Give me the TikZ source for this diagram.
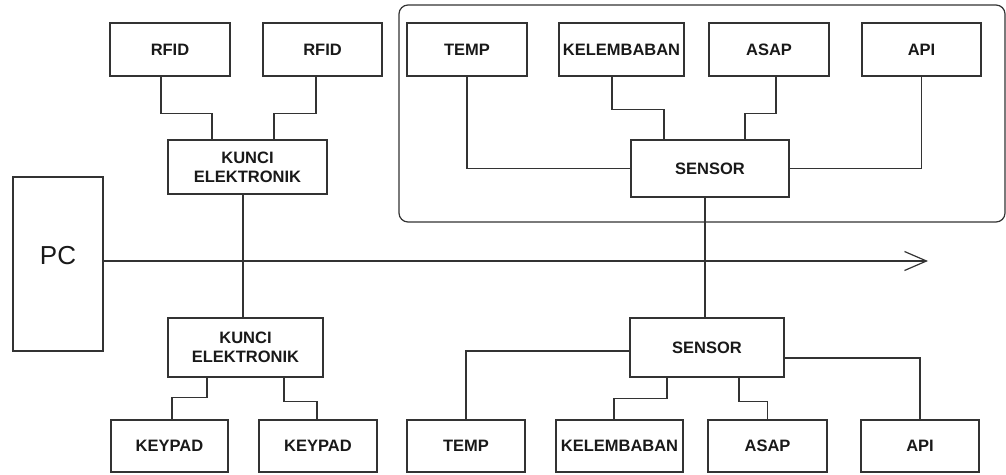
\documentclass[tikz,border=0pt]{standalone}
\usepackage{fontspec}
\setmainfont{Liberation Sans}
\usepackage{tikz}
\usetikzlibrary{arrows.meta,calc,positioning}

\begin{document}
\begin{tikzpicture}[x=1pt, y=-1pt, every node/.style={font=\bfseries\fontsize{16.5}{19}\selectfont, align=center, text=black!90},
    box/.style={draw=black!80, line width=1.2pt, inner sep=0pt, minimum height=53pt},
    wire/.style={draw=black!80, line width=1.2pt}]
    \useasboundingbox (0,0) rectangle (1006,474);

    % kunci elektronik
    \node[box, minimum width=120pt] (rfidA) at (170,49.5) {RFID};
    \node[box, minimum width=119pt] (rfidB) at (322.5,49.5) {RFID};
    \node[box, minimum width=159pt, minimum height=54pt] (kunciA) at (247.5,167) {KUNCI\\ELEKTRONIK};
    \node[box, minimum width=155pt, minimum height=59pt] (kunciB) at (245.5,347.5) {KUNCI\\ELEKTRONIK};
    \node[box, minimum width=117pt, minimum height=52pt] (keypadA) at (169.5,446) {KEYPAD};
    \node[box, minimum width=118pt, minimum height=52pt] (keypadB) at (318,446) {KEYPAD};
    \node[box, minimum width=90pt, minimum height=174pt, label={[font=\fontsize{26}{30}\selectfont, yshift=8pt]center:PC}] (pc) at (58,264) {};

    % sensor
    \node[draw=black!80, line width=1.2pt, rounded corners=9pt, minimum width=606pt, minimum height=217pt] (grup) at (702,113.5) {};
    \node[box, minimum width=120pt] (tempA) at (467,49.5) {TEMP};
    \node[box, minimum width=125pt] (lembabA) at (621.5,49.5) {KELEMBABAN};
    \node[box, minimum width=120pt] (asapA) at (769,49.5) {ASAP};
    \node[box, minimum width=119pt] (apiA) at (921.5,49.5) {API};
    \node[box, minimum width=158pt, minimum height=57pt] (sensorA) at (710,168.5) {SENSOR};

    \node[box, minimum width=154pt, minimum height=59pt] (sensorB) at (707,347.5) {SENSOR};
    \node[box, minimum width=118pt, minimum height=52pt] (tempB) at (466,446) {TEMP};
    \node[box, minimum width=127pt, minimum height=52pt] (lembabB) at (619.5,446) {KELEMBABAN};
    \node[box, minimum width=119pt, minimum height=52pt] (asapB) at (767.5,446) {ASAP};
    \node[box, minimum width=118pt, minimum height=52pt] (apiB) at (920,446) {API};

    \coordinate (ujung) at (928,261);

    \draw[wire] ([xshift=-9pt]rfidA.south) -- ++(0,37) -| ([xshift=-35.5pt]kunciA.north);
    \draw[wire] ([xshift=-6.5pt]rfidB.south) -- ++(0,37) -| ([xshift=26.5pt]kunciA.north);
    \draw[wire] ([xshift=-4.5pt]kunciA.south) -- ([xshift=-4.5pt]kunciA.south |- kunciB.north);
    \draw[wire] ([xshift=-38.5pt]kunciB.south) -- ++(0,20) -| ([xshift=2.5pt]keypadA.north);
    \draw[wire] ([xshift=38.5pt]kunciB.south) -- ++(0,24) -| ([xshift=-1pt]keypadB.north);
    \draw[wire, -{Straight Barb[length=22pt, width=19pt]}] ([yshift=3pt]pc.east) -- (ujung);

    \draw[wire] (tempA.south) |- (sensorA.west);
    \draw[wire] ([xshift=-9.5pt]lembabA.south) -- ++(0,33) -| ([xshift=-46pt]sensorA.north);
    \draw[wire] ([xshift=7pt]asapA.south) -- ++(0,37) -| ([xshift=35pt]sensorA.north);
    \draw[wire] (apiA.south) |- (sensorA.east);
    \draw[wire] ([xshift=-5pt]sensorA.south) -- ([xshift=-5pt]sensorA.south |- sensorB.north);

    \draw[wire] ([yshift=-3.5pt]sensorB.west) -| (tempB.north);
    \draw[wire] ([xshift=-40pt]sensorB.south) -- ++(0,21) -| ([xshift=-5.5pt]lembabB.north);
    \draw[wire] ([xshift=32pt]sensorB.south) -- ++(0,24) -| (asapB.north);
    \draw[wire] ([yshift=-10.5pt]sensorB.east) -| (apiB.north);
\end{tikzpicture}
\end{document}
